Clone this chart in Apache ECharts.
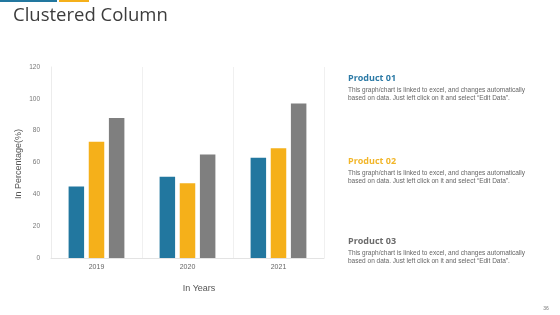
<!DOCTYPE html>
<html>
<head>
<meta charset="utf-8">
<script src="https://cdn.jsdelivr.net/npm/echarts@6/dist/echarts.min.js"></script>
<style>
html,body{margin:0;padding:0;background:#fff;}
#c{width:560px;height:315px;}
</style>
</head>
<body>
<div id="c"></div>
<script>
var categories = ['2019', '2020', '2021'];
var product01 = [45, 51, 63];
var product02 = [73, 47, 69];
var product03 = [88, 65, 97];
var seriesNames = ['Product 01', 'Product 02', 'Product 03'];
var yTicks = [0, 20, 40, 60, 80, 100, 120];
var descText = 'This graph/chart is linked to excel, and changes automatically\nbased on data. Just left click on it and select \u201cEdit Data\u201d.';

var colors = ['#22779f', '#f5b01a', '#7f7f7f'];
var chart = echarts.init(document.getElementById('c'), null, {renderer: 'canvas'});

function barSeries(name, data, color) {
  return {
    name: name, type: 'bar', data: data, barWidth: 15.5, barGap: '30%',
    itemStyle: {color: color}, emphasis: {disabled: true}
  };
}

var productLabels = [
  {y: 74, color: '#2c7aa6'},
  {y: 157, color: '#f2b62a'},
  {y: 237, color: '#6b6b6b'}
];
var graphics = [
  {type: 'rect', shape: {x: 0, y: 0, width: 57, height: 2}, style: {fill: '#22779f'}},
  {type: 'rect', shape: {x: 59, y: 0, width: 30, height: 2}, style: {fill: '#f5b01a'}},
  {type: 'text', left: 13, top: 6, style: {text: 'Clustered Column', font: '400 18.5px "Open Sans", Lato, sans-serif', fill: '#3c3c3c'}},
  {type: 'text', x: 19, y: 164, rotation: Math.PI / 2, style: {text: 'In Percentage(%)', font: '9px "Liberation Sans", Arial, sans-serif', fill: '#555', align: 'center', verticalAlign: 'middle'}},
  {type: 'text', x: 199, y: 289, style: {text: 'In Years', font: '9px "Liberation Sans", Arial, sans-serif', fill: '#555', align: 'center', verticalAlign: 'middle'}},
  {type: 'text', x: 546, y: 309, style: {text: '36', font: '5px "Liberation Sans", Arial, sans-serif', fill: '#777', align: 'center', verticalAlign: 'middle'}}
];
productLabels.forEach(function (p, i) {
  graphics.push({type: 'text', x: 348, y: p.y, style: {text: seriesNames[i], font: 'bold 9px "Open Sans", sans-serif', fill: p.color}});
  graphics.push({type: 'text', x: 348, y: p.y + 12, style: {text: descText, font: '6.5px "Liberation Sans", Arial, sans-serif', fill: '#666', lineHeight: 8}});
});

chart.setOption({
  animation: false,
  backgroundColor: '#ffffff',
  grid: {left: 51, right: 236, top: 67, bottom: 57},
  xAxis: {
    type: 'category', data: categories,
    axisLine: {lineStyle: {color: '#e3e3e3'}},
    axisTick: {show: false},
    axisLabel: {color: '#666', fontSize: 7, margin: 6, fontFamily: 'Liberation Sans, Arial, sans-serif'},
    splitLine: {show: true, lineStyle: {color: '#f0f0f0'}}
  },
  yAxis: {
    type: 'value', min: yTicks[0], max: yTicks[yTicks.length - 1], interval: 20,
    axisLine: {show: true, lineStyle: {color: '#ececec'}},
    axisTick: {show: false},
    axisLabel: {color: '#777', fontSize: 6.5, margin: 11, fontFamily: 'Liberation Sans, Arial, sans-serif'},
    splitLine: {show: false}
  },
  series: [
    barSeries(seriesNames[0], product01, colors[0]),
    barSeries(seriesNames[1], product02, colors[1]),
    barSeries(seriesNames[2], product03, colors[2])
  ],
  graphic: graphics
});
</script>
</body>
</html>
